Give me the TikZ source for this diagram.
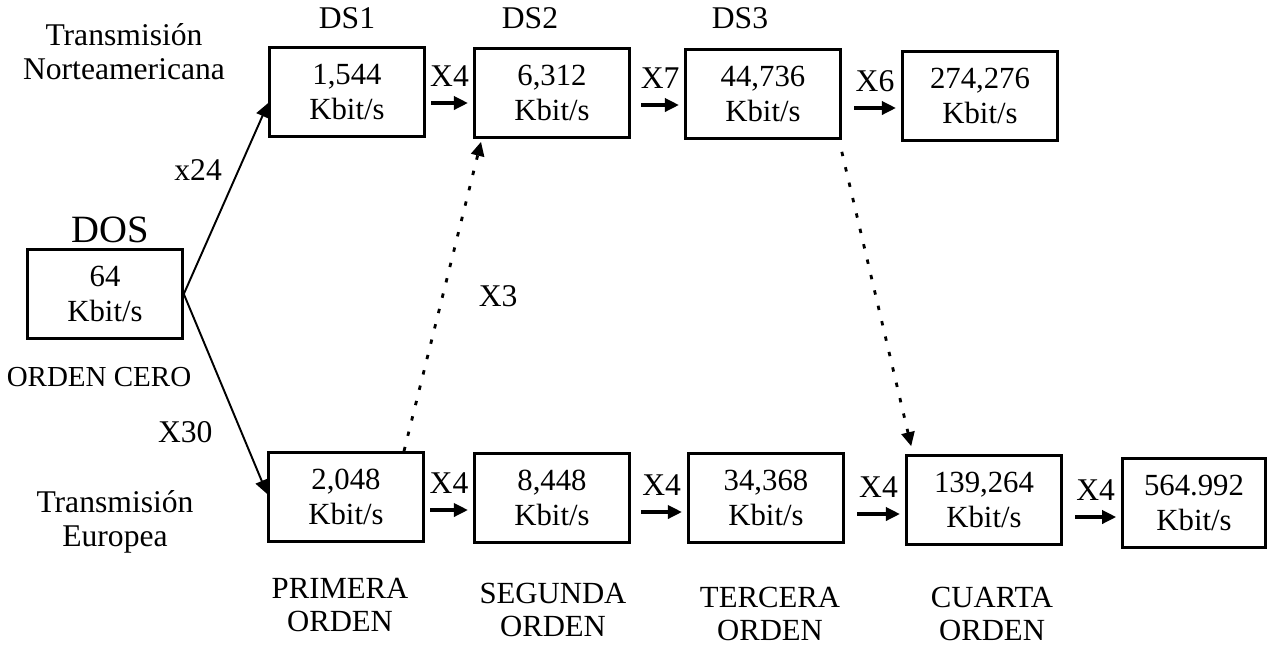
\documentclass[tikz,border=0pt]{standalone}
\usepackage{fontspec}
\setmainfont{Liberation Serif}
\usetikzlibrary{arrows.meta,positioning}

\begin{document}
\begin{tikzpicture}[x=0.02cm, y=-0.02cm, >={Triangle[length=8pt,width=7.5pt]},
  every node/.style={font=\fontsize{18}{19.5}\selectfont, align=center},
  rate/.style={draw, line width=1.5pt, minimum width=3.1cm, minimum height=1.78cm, inner sep=0pt,
    font=\fontsize{17.5}{19.5}\selectfont},
  order/.style={font=\fontsize{17.5}{19}\selectfont},
  mux/.style={->, line width=1.8pt, shorten <=3pt, shorten >=3pt},
  feed/.style={->, line width=1.1pt},
  link/.style={->, line width=1.6pt, dash pattern=on 2.5pt off 6.5pt}]
\path[use as bounding box] (0,0) rectangle (1268,647);
% boxes
\node[rate] (dos) at (105,294) {64\\Kbit/s};
\node[rate] (ds1) at (347,92) {1,544\\Kbit/s};
\node[rate] (ds2) at (552,93) {6,312\\Kbit/s};
\node[rate] (ds3) at (763,94) {44,736\\Kbit/s};
\node[rate] (na4) at (980,96) {274,276\\Kbit/s};
\node[rate] (eu1) at (346,497) {2,048\\Kbit/s};
\node[rate] (eu2) at (552,498) {8,448\\Kbit/s};
\node[rate] (eu3) at (766,498) {34,368\\Kbit/s};
\node[rate] (eu4) at (984,500) {139,264\\Kbit/s};
\node[rate, minimum width=2.85cm] (eu5) at (1194,503) {564.992\\Kbit/s};
% texts
\node (tna) at (124,52) {Transmisión\\Norteamericana};
\node (teu) at (115,522) {Transmisión\\Europea};
\node[font=\fontsize{22}{24}\selectfont] (tdos) at (110,230) {DOS};
\node[font=\fontsize{16.5}{19}\selectfont] (tcero) at (99,377) {ORDEN CERO};
\node (nds1) at (347,18) {DS1};
\node (nds2) at (530,18) {DS2};
\node (nds3) at (740,18) {DS3};
\node[order] (ord1) at (340,605) {PRIMERA\\ORDEN};
\node[order] (ord2) at (553,610) {SEGUNDA\\ORDEN};
\node[order] (ord3) at (770,614) {TERCERA\\ORDEN};
\node[order] (ord4) at (992,614) {CUARTA\\ORDEN};
% multiplexing steps
\draw[mux] ([yshift=-0.22cm]ds1.east) -- node[above=5pt] (m1) {X4} ([yshift=-0.22cm]ds1.east -| ds2.west);
\draw[mux] ([xshift=3pt,yshift=-0.24cm]ds2.east) -- node[above=5pt] (m2) {X7} ([yshift=-0.24cm]ds2.east -| ds3.west);
\draw[mux] ([xshift=4pt,yshift=-0.28cm]ds3.east) -- node[above=5pt] (m3) {X6} ([yshift=-0.28cm]ds3.east -| na4.west);
\draw[mux] ([yshift=-0.26cm]eu1.east) -- node[above=5pt] (m4) {X4} ([yshift=-0.26cm]eu1.east -| eu2.west);
\draw[mux] ([xshift=3pt,yshift=-0.28cm]eu2.east) -- node[above=5pt] (m5) {X4} ([yshift=-0.28cm]eu2.east -| eu3.west);
\draw[mux] ([xshift=4pt,yshift=-0.32cm]eu3.east) -- node[above=5pt] (m6) {X4} ([yshift=-0.32cm]eu3.east -| eu4.west);
\draw[mux] ([xshift=4pt,yshift=-0.34cm]eu4.east) -- node[above=5pt] (m7) {X4} ([yshift=-0.34cm]eu4.east -| eu5.west);
% from order zero
\draw[feed] (dos.east) -- node[pos=0.65, left=0.2cm] (lx24) {x24} ([yshift=-0.22cm]ds1.west);
\draw[feed] (dos.east) -- node[pos=0.69, left=0.44cm] (lx30) {X30} ([yshift=0.06cm]eu1.west);
% cross links
\draw[link] ([xshift=1.16cm]eu1.north) -- node[right=0.58cm] (lx3) {X3} ([xshift=-1.42cm,yshift=-0.06cm]ds2.south);
\draw[link] ([yshift=-0.24cm]ds3.south east) -- ([xshift=0.12cm,yshift=0.16cm]eu4.north west);
\end{tikzpicture}
\end{document}
